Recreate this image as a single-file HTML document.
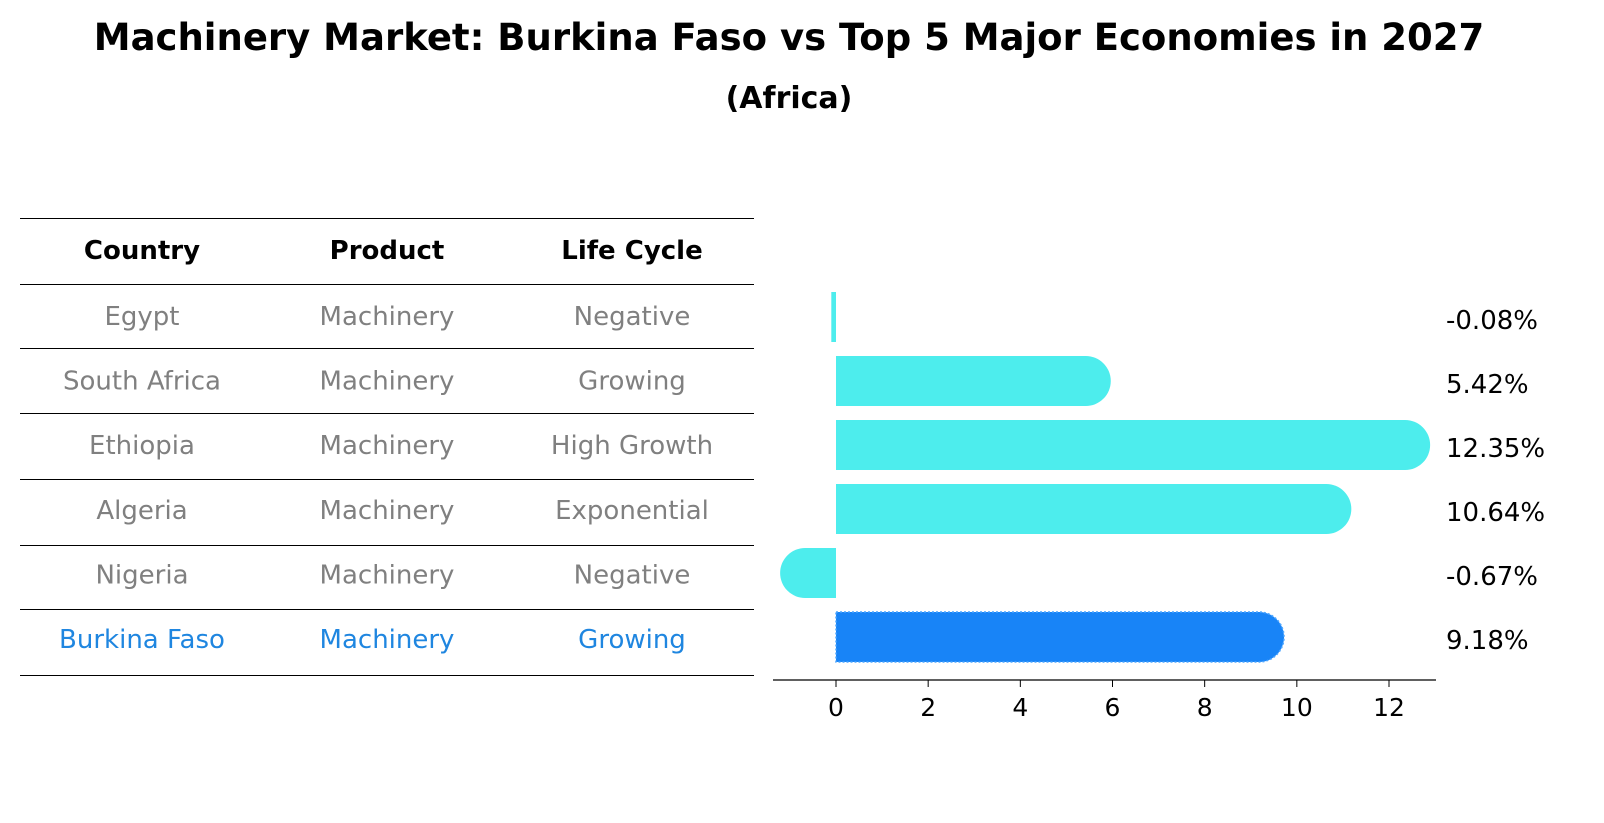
<!DOCTYPE html>
<html><head><meta charset="utf-8"><style>
body{margin:0;background:#fff;font-family:"DejaVu Sans","Liberation Sans",sans-serif;}
svg{display:block}
</style></head><body>
<svg width="1604" height="823" font-family="DejaVu Sans, Liberation Sans, sans-serif">
<text x="789" y="50" text-anchor="middle" font-size="37" font-weight="bold">Machinery Market: Burkina Faso vs Top 5 Major Economies in 2027</text>
<text x="789" y="108" text-anchor="middle" font-size="30" font-weight="bold">(Africa)</text>
<g id="table"></g>
<g id="bars"></g>
</svg>
<script>
const countries=["Egypt","South Africa","Ethiopia","Algeria","Nigeria","Burkina Faso"];
const products=["Machinery","Machinery","Machinery","Machinery","Machinery","Machinery"];
const lifecycles=["Negative","Growing","High Growth","Exponential","Negative","Growing"];
const values=[-0.08,5.42,12.35,10.64,-0.67,9.18];
const ticks=[0,2,4,6,8,10,12];
const NS="http://www.w3.org/2000/svg";
function mk(tag,attrs,parent){const e=document.createElementNS(NS,tag);for(const k in attrs)e.setAttribute(k,attrs[k]);parent.appendChild(e);return e;}
const tbl=document.getElementById('table');
const lineYs=[218,284,348,413,479,545,609,675];
lineYs.forEach((y,i)=>{const l=mk('line',{x1:20,x2:754,y1:y+0.5,y2:y+0.5,stroke:'#000','stroke-width':1},tbl);

});
const colX=[142,387,632];
["Country","Product","Life Cycle"].forEach((h,i)=>{const t=mk('text',{x:colX[i],y:259,'text-anchor':'middle','font-size':26,'font-weight':'bold'},tbl);t.textContent=h;

});
function rowY(i){return 316+i*64.6;}
countries.forEach((c,i)=>{const col=i===countries.length-1?'#1f86e0':'#808080';
[c,products[i],lifecycles[i]].forEach((v,j)=>{const t=mk('text',{x:colX[j],y:rowY(i)+9,'text-anchor':'middle','font-size':26,fill:col},tbl);t.textContent=v;

});});
const g=document.getElementById('bars');
const x0=836,ux=(1389-836)/12;
function sx(v){return x0+v*ux;}
const bh=50,r=25;
function barY(i){return 317+i*64;}
values.forEach((v,i)=>{const cy=barY(i);const last=i===values.length-1;const fill=last?'#1884f7':'#4deded';
const x1=Math.min(sx(0),sx(v)),x2=Math.max(sx(0),sx(v));
let d;
if(Math.abs(v)<0.3){d=`M${x1-1},${cy-bh/2}H${x2}V${cy+bh/2}H${x1-1}Z`;}
else if(v>0){d=`M${x1},${cy-bh/2}H${x2}A${r},${r} 0 0 1 ${x2},${cy+bh/2}H${x1}Z`;}
else{d=`M${x2},${cy-bh/2}H${x1}A${r},${r} 0 0 0 ${x1},${cy+bh/2}H${x2}Z`;}
const p=mk('path',{d:d,fill:fill},g);
if(last){p.setAttribute('stroke','#4da6ff');p.setAttribute('stroke-dasharray','2,2');p.setAttribute('stroke-width','1.5');}


const t=mk('text',{x:1446,y:cy+12,'font-size':26},g);t.textContent=v.toFixed(2)+'%';

});
const ax=mk('line',{x1:773,x2:1436,y1:680,y2:680,stroke:'#000','stroke-width':1.2},g);


ticks.forEach(tv=>{const x=sx(tv);const tl=mk('line',{x1:x,x2:x,y1:680,y2:687,stroke:'#000'},g);


const t=mk('text',{x:x,y:716,'text-anchor':'middle','font-size':25},g);t.textContent=tv;

});
</script>
</body></html>
